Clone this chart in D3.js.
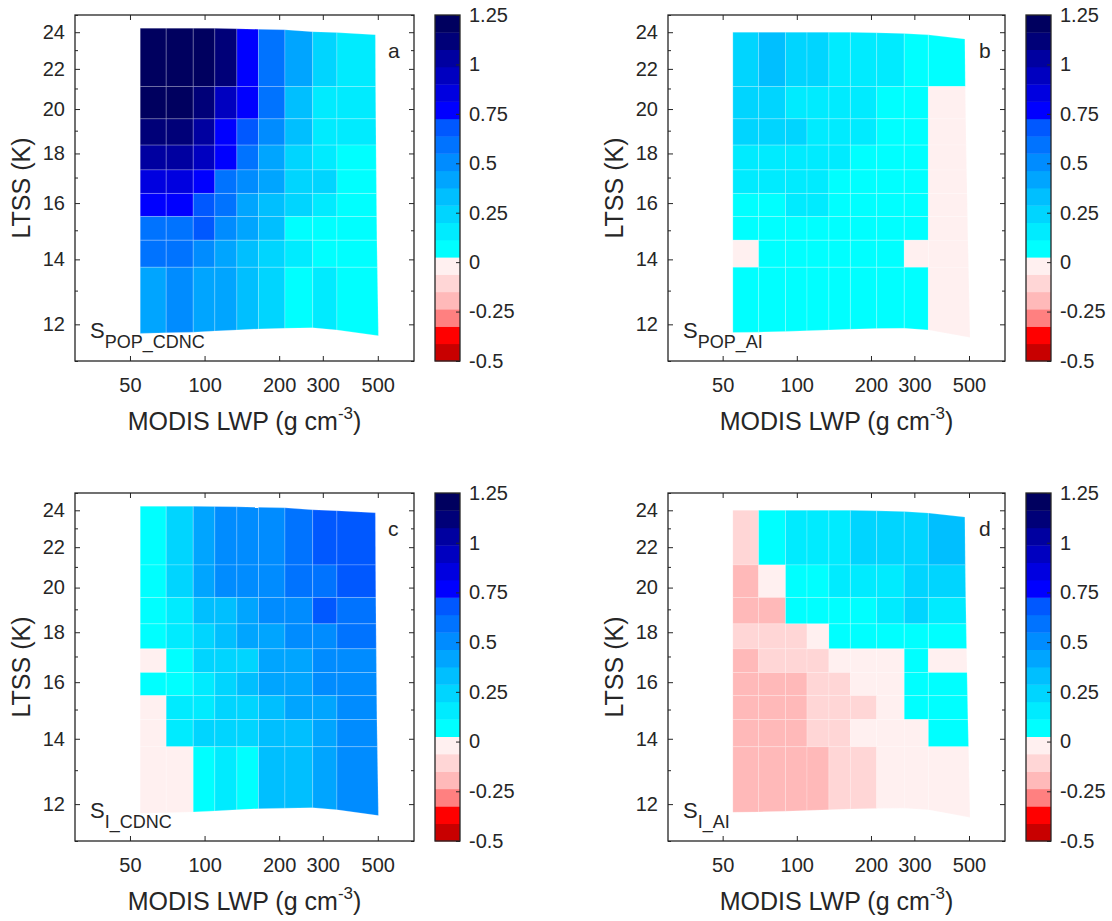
<!DOCTYPE html>
<html>
<head>
<meta charset="utf-8">
<script src="https://cdn.jsdelivr.net/npm/d3@7"></script>
<style>
  body { margin: 0; background: #fff; }
  text { font-family: "Liberation Sans", Arial, Helvetica, sans-serif; fill: #262626; }
</style>
</head>
<body>
<svg id="fig" width="1112" height="921"></svg>
<script>
// ---- bin grid (LWP in g cm-3, LTSS in K) ----
const lwpEdges = [55, 70, 90, 110, 135, 165, 211, 273, 342];
const ltssEdges = [21.1, 19.54, 18.36, 17.31, 16.37, 15.5, 14.65, 13.74];
// last LWP node, one per LTSS node (top -> bottom)
const rightEdgeCDNC = [489, 490, 491, 492, 493, 494, 495, 496, 498, 503];
const rightEdgeAI = [481, 483, 485, 487, 489, 491, 493, 495, 498, 505];
// top / bottom LTSS nodes, one per LWP node
const topEdgeCDNC = [24.23, 24.23, 24.23, 24.22, 24.2, 24.17, 24.14, 24.03, 23.98, 23.86];
const botEdgeCDNC = [11.745, 11.76, 11.78, 11.81, 11.84, 11.87, 11.886, 11.9, 11.84, 11.68];
const topEdgeAI = [24.0, 24.0, 24.0, 24.0, 24.0, 24.0, 23.97, 23.93, 23.85, 23.62];
const botEdgeAI = [11.77, 11.78, 11.8, 11.82, 11.84, 11.86, 11.88, 11.886, 11.84, 11.63];

// ---- sensitivities, rows from high LTSS to low LTSS ----
const sPopCdnc = [
  [1.21, 1.21, 1.21, 1.12, 0.77, 0.59, 0.42, 0.24, 0.16],
  [1.21, 1.21, 1.12, 0.94, 0.77, 0.59, 0.33, 0.16, 0.16],
  [1.12, 1.12, 1.03, 0.77, 0.68, 0.51, 0.33, 0.16, 0.16],
  [1.03, 1.03, 0.94, 0.77, 0.59, 0.42, 0.24, 0.16, 0.07],
  [0.86, 0.86, 0.77, 0.59, 0.51, 0.42, 0.24, 0.24, 0.07],
  [0.77, 0.77, 0.68, 0.59, 0.42, 0.33, 0.24, 0.16, 0.07],
  [0.59, 0.59, 0.68, 0.51, 0.42, 0.33, 0.07, 0.07, 0.07],
  [0.59, 0.59, 0.51, 0.42, 0.33, 0.24, 0.16, 0.07, 0.07],
  [0.42, 0.51, 0.42, 0.42, 0.33, 0.24, 0.07, 0.16, 0.07]
];
const sPopAi = [
  [0.24, 0.33, 0.24, 0.24, 0.16, 0.16, 0.16, 0.07, 0.07],
  [0.24, 0.24, 0.16, 0.16, 0.16, 0.16, 0.07, 0.07, -0.02],
  [0.24, 0.24, 0.24, 0.16, 0.16, 0.16, 0.07, 0.07, -0.02],
  [0.16, 0.16, 0.16, 0.16, 0.16, 0.07, 0.07, 0.07, -0.02],
  [0.16, 0.16, 0.16, 0.16, 0.07, 0.07, 0.07, 0.07, -0.02],
  [0.07, 0.07, 0.16, 0.16, 0.07, 0.07, 0.07, 0.07, -0.02],
  [0.07, 0.07, 0.07, 0.07, 0.07, 0.07, 0.07, 0.07, -0.02],
  [-0.02, 0.07, 0.07, 0.07, 0.07, 0.07, 0.07, -0.02, -0.02],
  [0.07, 0.07, 0.07, 0.07, 0.07, 0.07, 0.07, 0.07, -0.02]
];
const sICdnc = [
  [0.07, 0.24, 0.42, 0.51, 0.51, 0.51, 0.59, 0.68, 0.68],
  [0.07, 0.24, 0.42, 0.51, 0.51, 0.51, 0.59, 0.59, 0.68],
  [0.07, 0.16, 0.33, 0.33, 0.42, 0.51, 0.51, 0.68, 0.59],
  [0.07, 0.16, 0.24, 0.33, 0.42, 0.42, 0.51, 0.51, 0.59],
  [-0.02, 0.07, 0.24, 0.24, 0.24, 0.42, 0.42, 0.51, 0.51],
  [0.07, 0.07, 0.16, 0.24, 0.33, 0.42, 0.42, 0.51, 0.51],
  [-0.02, 0.16, 0.16, 0.24, 0.24, 0.33, 0.42, 0.42, 0.51],
  [-0.02, 0.16, 0.24, 0.24, 0.24, 0.33, 0.33, 0.42, 0.51],
  [-0.02, -0.02, 0.07, 0.16, 0.07, 0.33, 0.33, 0.42, 0.51]
];
const sIAi = [
  [-0.11, 0.07, 0.16, 0.16, 0.16, 0.24, 0.24, 0.24, 0.33],
  [-0.19, -0.02, 0.07, 0.07, 0.16, 0.16, 0.16, 0.24, 0.24],
  [-0.19, -0.19, 0.07, 0.07, 0.07, 0.07, 0.16, 0.24, 0.16],
  [-0.11, -0.11, -0.11, -0.02, 0.07, 0.07, 0.07, 0.07, 0.07],
  [-0.19, -0.11, -0.11, -0.11, -0.02, -0.02, -0.02, 0.07, -0.02],
  [-0.19, -0.19, -0.19, -0.11, -0.11, -0.02, -0.02, 0.07, 0.07],
  [-0.19, -0.19, -0.19, -0.11, -0.11, -0.11, -0.02, 0.07, 0.07],
  [-0.19, -0.19, -0.19, -0.11, -0.11, -0.02, -0.02, -0.02, 0.07],
  [-0.19, -0.19, -0.19, -0.19, -0.11, -0.11, -0.02, -0.02, -0.02]
];

// ---- colour scale ----
const cmapColors = ["#c80000", "#ff0000", "#ff8080", "#ffb9b9", "#ffd6d6", "#fff0f0",
  "#00ffff", "#00ebff", "#00d5ff", "#00bfff", "#00a5ff", "#008cff", "#0073ff", "#0058ff",
  "#0000ff", "#0000e0", "#0000c0", "#0000a0", "#000078", "#00005f"];
const cbTicks = [-0.5, -0.25, 0, 0.25, 0.5, 0.75, 1, 1.25];
const cbTickLabels = ["-0.5", "-0.25", "0", "0.25", "0.5", "0.75", "1", "1.25"];
const xTickVals = [50, 100, 200, 300, 500];
const yTickVals = [12, 14, 16, 18, 20, 22, 24];
const yMinorVals = [11, 13, 15, 17, 19, 21, 23, 25];

const color = d3.scaleQuantize().domain([-0.5, 1.25]).range(cmapColors);

const panels = [
  {vals: sPopCdnc, letter: "a", sub: "POP_CDNC", top: topEdgeCDNC, bot: botEdgeCDNC, right: rightEdgeCDNC,
   x0: 75, x1: 414, y0: 15, y1: 361, cb0: 435, cb1: 460},
  {vals: sPopAi, letter: "b", sub: "POP_AI", top: topEdgeAI, bot: botEdgeAI, right: rightEdgeAI,
   x0: 668, x1: 1005, y0: 15, y1: 361, cb0: 1026, cb1: 1051},
  {vals: sICdnc, letter: "c", sub: "I_CDNC", top: topEdgeCDNC, bot: botEdgeCDNC, right: rightEdgeCDNC,
   x0: 75, x1: 414, y0: 493, y1: 841, cb0: 435, cb1: 460},
  {vals: sIAi, letter: "d", sub: "I_AI", top: topEdgeAI, bot: botEdgeAI, right: rightEdgeAI,
   x0: 668, x1: 1005, y0: 493, y1: 841, cb0: 1026, cb1: 1051}
];

const svg = d3.select("#fig");
const axisCol = "#262626";

panels.forEach(function(p) {
  const x = d3.scaleLog().domain([30, 700]).range([p.x0, p.x1]);
  const y = d3.scaleLog().domain([11, 25]).range([p.y1, p.y0]);
  const g = svg.append("g");

  // node position of the bin grid
  function node(r, c) {
    const lwp = c < 9 ? lwpEdges[c] : p.right[r];
    const lt = r === 0 ? p.top[c] : (r === 9 ? p.bot[c] : ltssEdges[r - 1]);
    return [x(lwp), y(lt)];
  }

  const cells = [];
  p.vals.forEach(function(row, r) {
    row.forEach(function(v, c) {
      cells.push({v: v, pts: [node(r, c), node(r, c + 1), node(r + 1, c + 1), node(r + 1, c)]});
    });
  });

  g.selectAll("path.cell").data(cells).enter().append("path")
    .attr("class", "cell")
    .attr("d", function(d) { return "M" + d.pts.join("L") + "Z"; })
    .attr("fill", function(d) { return color(d.v); })
    .attr("stroke", "#ffffff")
    .attr("stroke-opacity", 0.35)
    .attr("stroke-width", 0.6);

  // axes: ticks pointing in, on all four sides
  const bottom = g.append("g").attr("transform", "translate(0," + p.y1 + ")")
    .call(d3.axisBottom(x).tickValues(xTickVals).tickFormat(d3.format("d")).tickSize(-5).tickPadding(17));
  const topAx = g.append("g").attr("transform", "translate(0," + p.y0 + ")")
    .call(d3.axisTop(x).tickValues(xTickVals).tickFormat("").tickSize(-5));
  const left = g.append("g").attr("transform", "translate(" + p.x0 + ",0)")
    .call(d3.axisLeft(y).tickValues(yTickVals).tickFormat(d3.format("d")).tickSize(-5).tickPadding(10));
  const rightAx = g.append("g").attr("transform", "translate(" + p.x1 + ",0)")
    .call(d3.axisRight(y).tickValues(yTickVals).tickFormat("").tickSize(-5));
  const leftMin = g.append("g").attr("transform", "translate(" + p.x0 + ",0)")
    .call(d3.axisLeft(y).tickValues(yMinorVals).tickFormat("").tickSize(-3));
  const rightMin = g.append("g").attr("transform", "translate(" + p.x1 + ",0)")
    .call(d3.axisRight(y).tickValues(yMinorVals).tickFormat("").tickSize(-3));

  [bottom, topAx, left, rightAx, leftMin, rightMin].forEach(function(a) {
    a.select(".domain").remove();
    a.selectAll("line").attr("stroke", axisCol).attr("stroke-width", 1);
    a.selectAll("text").attr("font-size", 20).attr("fill", axisCol)
      .style("font-family", '"Liberation Sans", Arial, sans-serif');
  });

  g.append("rect")
    .attr("x", p.x0).attr("y", p.y0)
    .attr("width", p.x1 - p.x0).attr("height", p.y1 - p.y0)
    .attr("fill", "none").attr("stroke", axisCol).attr("stroke-width", 1.3);

  // axis labels
  const xl = g.append("text")
    .attr("x", (p.x0 + p.x1) / 2).attr("y", p.y1 + 69)
    .attr("text-anchor", "middle").attr("font-size", 25);
  xl.append("tspan").text("MODIS LWP (g cm");
  xl.append("tspan").attr("dy", -11).attr("font-size", 17).text("-3");
  xl.append("tspan").attr("dy", 11).text(")");

  g.append("text")
    .attr("transform", "translate(" + (p.x0 - 45) + "," + ((p.y0 + p.y1) / 2) + ") rotate(-90)")
    .attr("text-anchor", "middle").attr("font-size", 25)
    .text("LTSS (K)");

  // panel letter and annotation
  g.append("text")
    .attr("x", p.x1 - 26).attr("y", p.y0 + 43)
    .attr("font-size", 21).text(p.letter);

  const s = g.append("text")
    .attr("x", p.x0 + 15).attr("y", p.y1 - 23)
    .attr("font-size", 22);
  s.append("tspan").text("S");
  s.append("tspan").attr("dy", 10).attr("font-size", 18).text(p.sub);

  // colour bar
  const cy = d3.scaleLinear().domain([-0.5, 1.25]).range([p.y1, p.y0]);
  const step = 1.75 / cmapColors.length;
  g.selectAll("rect.cb").data(cmapColors).enter().append("rect")
    .attr("class", "cb")
    .attr("x", p.cb0)
    .attr("width", p.cb1 - p.cb0)
    .attr("y", function(d, i) { return cy(-0.5 + (i + 1) * step); })
    .attr("height", function(d, i) { return cy(-0.5 + i * step) - cy(-0.5 + (i + 1) * step) + 0.4; })
    .attr("fill", function(d) { return d; });

  const cbAx = g.append("g").attr("transform", "translate(" + p.cb1 + ",0)")
    .call(d3.axisRight(cy).tickValues(cbTicks)
      .tickFormat(function(d, i) { return cbTickLabels[i]; })
      .tickSize(-4).tickPadding(9));
  cbAx.select(".domain").remove();
  cbAx.selectAll("line").attr("stroke", axisCol);
  cbAx.selectAll("text").attr("font-size", 20).attr("fill", axisCol)
    .style("font-family", '"Liberation Sans", Arial, sans-serif');

  g.append("rect")
    .attr("x", p.cb0).attr("y", p.y0)
    .attr("width", p.cb1 - p.cb0).attr("height", p.y1 - p.y0)
    .attr("fill", "none").attr("stroke", axisCol).attr("stroke-width", 1.3);
});
</script>
</body>
</html>
